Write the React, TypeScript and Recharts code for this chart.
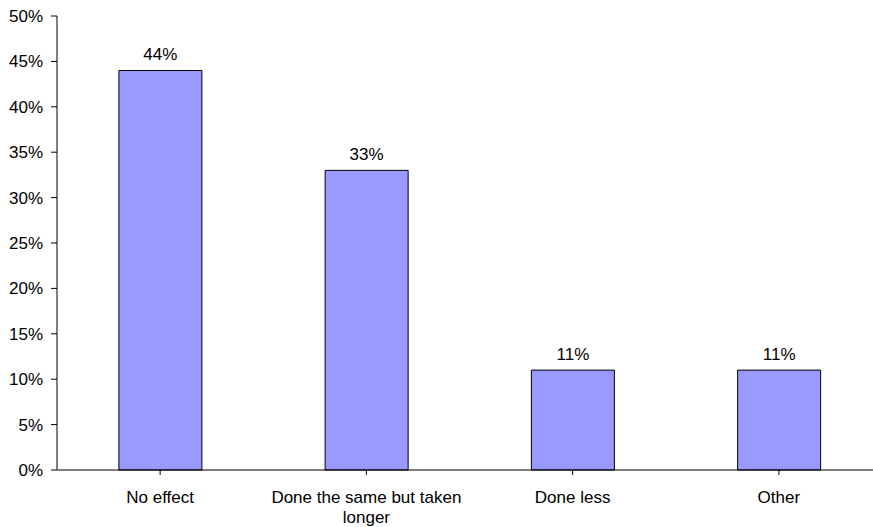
import { BarChart, Bar, XAxis, YAxis, LabelList } from 'recharts'

const categories = ['No effect', 'Done the same but taken longer', 'Done less', 'Other']
const shares = [44, 33, 11, 11]
const yTicks = [0, 5, 10, 15, 20, 25, 30, 35, 40, 45, 50]

const data = categories.map((name, i) => ({ name, share: shares[i] }))

const font = '"Liberation Sans", Arial, sans-serif'

// category labels wrap at a fixed width, like the original spreadsheet chart
function CategoryTick({ x, y, payload }: any) {
  const words = String(payload.value).split(' ')
  const lines: string[] = []
  let cur = ''
  for (const w of words) {
    const next = cur ? cur + ' ' + w : w
    if (next.length > 24 && cur) {
      lines.push(cur)
      cur = w
    } else {
      cur = next
    }
  }
  if (cur) lines.push(cur)
  return (
    <text x={x} y={y} textAnchor="middle" fontFamily={font} fontSize={17} fill="#000">
      {lines.map((l, i) => (
        <tspan key={i} x={x} dy={i === 0 ? 26 : 20}>{l}</tspan>
      ))}
    </text>
  )
}

export default function App() {
  return (
    <div style={{ position: 'fixed', left: 0, top: 0, width: 873, height: 527, overflow: 'hidden', background: '#fff' }}>
      <BarChart
        width={890}
        height={527}
        data={data}
        margin={{ top: 16, right: 8, left: 0, bottom: 0 }}
        barCategoryGap="30%"
      >
        <XAxis
          dataKey="name"
          height={57}
          tick={<CategoryTick />}
          tickLine={{ stroke: '#000' }}
          axisLine={{ stroke: '#000' }}
          tickSize={5}
          interval={0}
        />
        <YAxis
          width={57}
          domain={[0, 50]}
          ticks={yTicks}
          tickFormatter={(v: number) => `${v}%`}
          tick={{ fill: '#000', fontSize: 17, fontFamily: font }}
          tickLine={{ stroke: '#000' }}
          axisLine={{ stroke: '#808080', strokeWidth: 2 }}
          tickSize={6}
          tickMargin={8}
          interval={0}
        />
        <Bar dataKey="share" fill="#9999ff" stroke="#000" strokeWidth={1} isAnimationActive={false}>
          <LabelList
            dataKey="share"
            position="top"
            offset={10}
            formatter={(v: number) => `${v}%`}
            style={{ fill: '#000', fontSize: 17, fontFamily: font }}
          />
        </Bar>
      </BarChart>
    </div>
  )
}
